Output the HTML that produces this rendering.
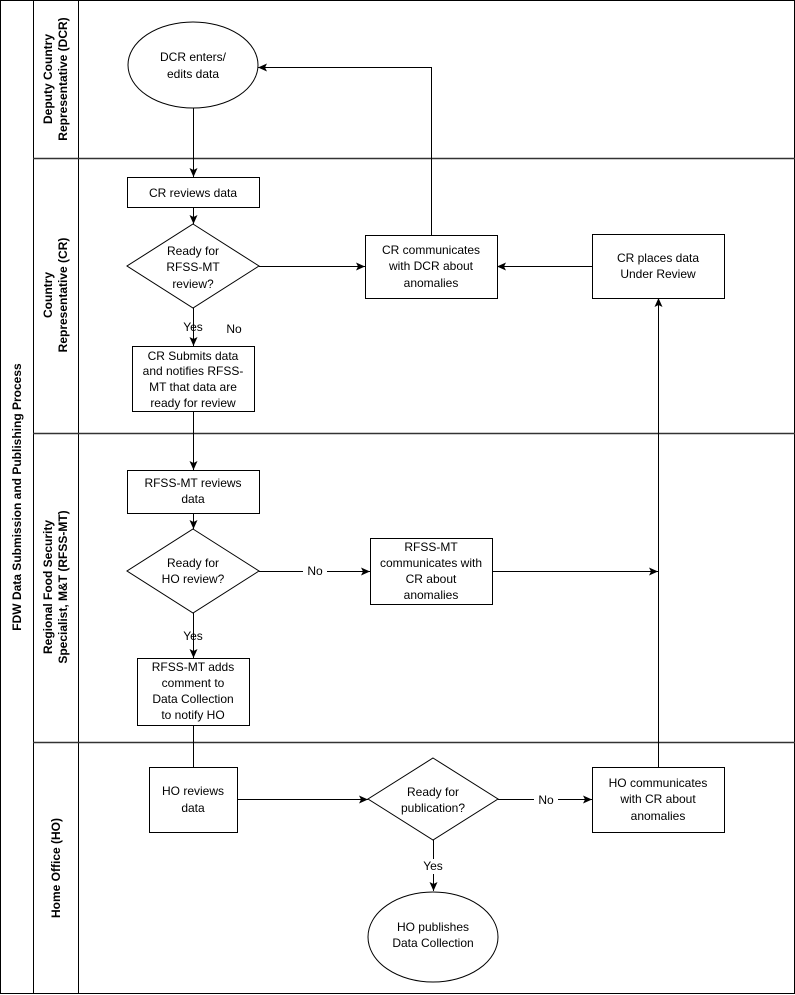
<!DOCTYPE html>
<html><head><style>html,body{margin:0;padding:0;background:#fff}svg{display:block}text{font-family:"Liberation Sans",Arial,sans-serif;font-size:12px;fill:#000}</style></head><body>
<svg width="795" height="995" viewBox="0 0 795 995" xmlns="http://www.w3.org/2000/svg">
<defs><marker id="a" markerWidth="10" markerHeight="10" refX="9" refY="5" orient="auto" markerUnits="userSpaceOnUse"><path d="M0,1 L9,5 L0,9 L2,5 z" fill="#000"/></marker></defs>
<g fill="none" stroke="#000" stroke-width="1">
<rect x="0.5" y="0.5" width="794" height="993"/>
<line x1="33.5" y1="0" x2="33.5" y2="994"/>
<line x1="78.5" y1="0" x2="78.5" y2="994"/>
<line x1="33" y1="158.5" x2="795" y2="158.5" stroke="#333" stroke-width="1.5"/>
<line x1="33" y1="433.5" x2="795" y2="433.5" stroke="#333" stroke-width="1.5"/>
<line x1="33" y1="742.5" x2="795" y2="742.5" stroke="#333" stroke-width="1.5"/>
</g>
<g font-weight="bold">
<text transform="translate(21,497) rotate(-90)" text-anchor="middle" style="font-weight:bold">FDW Data Submission and Publishing Process</text>
<text transform="translate(52,79) rotate(-90)" text-anchor="middle" style="font-weight:bold">Deputy Country</text>
<text transform="translate(67,79) rotate(-90)" text-anchor="middle" style="font-weight:bold">Representative (DCR)</text>
<text transform="translate(52,295) rotate(-90)" text-anchor="middle" style="font-weight:bold">Country</text>
<text transform="translate(67,295) rotate(-90)" text-anchor="middle" style="font-weight:bold">Representative (CR)</text>
<text transform="translate(52,587) rotate(-90)" text-anchor="middle" style="font-weight:bold">Regional Food Security</text>
<text transform="translate(67,587) rotate(-90)" text-anchor="middle" style="font-weight:bold">Specialist, M&amp;T (RFSS-MT)</text>
<text transform="translate(60,868) rotate(-90)" text-anchor="middle" style="font-weight:bold">Home Office (HO)</text>
</g>
<g fill="none" stroke="#000" stroke-width="1">
<ellipse cx="193" cy="65" rx="65" ry="43"/>
<rect x="127.5" y="177.5" width="132" height="30"/>
<polygon points="193,224 259,266 193,308 127,266"/>
<rect x="365.5" y="235.5" width="132" height="63"/>
<rect x="592.5" y="234.5" width="132" height="64"/>
<rect x="132.5" y="346.5" width="122" height="65"/>
<rect x="127.5" y="470.5" width="132" height="43"/>
<polygon points="193,529 259,571 193,613 127,571"/>
<rect x="370.5" y="538.5" width="122" height="66"/>
<rect x="137.5" y="658.5" width="112" height="67"/>
<rect x="149.5" y="767.5" width="88" height="65"/>
<polygon points="433,758 498,799 433,840 368,799"/>
<rect x="592.5" y="767.5" width="132" height="65"/>
<ellipse cx="433" cy="937" rx="65" ry="45"/>
<g marker-end="url(#a)">
<path d="M193.5,108 V177"/>
<path d="M193.5,208 V224"/>
<path d="M259,266.5 H365"/>
<path d="M431.5,235 V67.5 H258"/>
<path d="M592,266.5 H497"/>
<path d="M193.5,308 V346"/>
<path d="M193.5,412 V470"/>
<path d="M193.5,514 V529"/>
<path d="M259,571.5 H370"/>
<path d="M492,571.5 H658"/>
<path d="M658.5,767 V298"/>
<path d="M193.5,613 V658"/>
<path d="M237,799.5 H368"/>
<path d="M498,799.5 H592"/>
<path d="M433.5,840 V891"/>
</g>
<path d="M193.5,726 V767"/>
</g>
<g text-anchor="middle">
<text x="193" y="61">DCR enters/</text><text x="193" y="78">edits data</text>
<text x="193" y="197">CR reviews data</text>
<text x="193" y="255">Ready for</text><text x="193" y="271">RFSS-MT</text><text x="193" y="288">review?</text>
<text x="431" y="254">CR communicates</text><text x="431" y="270">with DCR about</text><text x="431" y="287">anomalies</text>
<text x="658" y="262">CR places data</text><text x="658" y="278">Under Review</text>
<text x="193" y="331">Yes</text><text x="234" y="333">No</text>
<text x="193" y="360">CR Submits data</text><text x="193" y="375">and notifies RFSS-</text><text x="193" y="391">MT that data are</text><text x="193" y="407">ready for review</text>
<text x="193" y="487">RFSS-MT reviews</text><text x="193" y="503">data</text>
<text x="193" y="567">Ready for</text><text x="193" y="583">HO review?</text>
<rect x="303" y="563" width="24" height="16" fill="#fff"/><text x="315" y="575">No</text>
<text x="431" y="551">RFSS-MT</text><text x="431" y="567">communicates with</text><text x="431" y="583">CR about</text><text x="431" y="599">anomalies</text>
<text x="193" y="640">Yes</text>
<text x="193" y="671">RFSS-MT adds</text><text x="193" y="687">comment to</text><text x="193" y="703">Data Collection</text><text x="193" y="719">to notify HO</text>
<text x="193" y="795">HO reviews</text><text x="193" y="812">data</text>
<text x="433" y="796">Ready for</text><text x="433" y="812">publication?</text>
<rect x="534" y="792" width="24" height="16" fill="#fff"/><text x="546" y="804">No</text>
<text x="658" y="787">HO communicates</text><text x="658" y="803">with CR about</text><text x="658" y="820">anomalies</text>
<rect x="421" y="859" width="24" height="15" fill="#fff"/><text x="433" y="870">Yes</text>
<text x="433" y="931">HO publishes</text><text x="433" y="947">Data Collection</text>
</g>
</svg>
</body></html>
